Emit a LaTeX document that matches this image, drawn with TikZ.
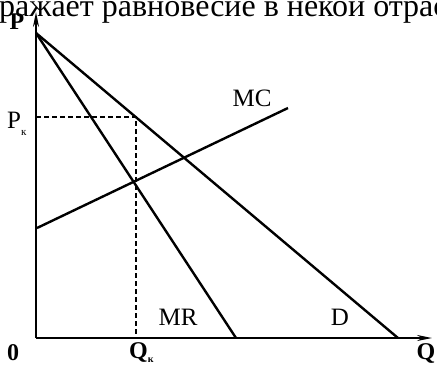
\documentclass[tikz,border=0pt]{standalone}
\usepackage{fontspec}
\setmainfont{Liberation Serif}
\usetikzlibrary{arrows.meta}
\begin{document}
\begin{tikzpicture}[x=1pt,y=-1pt,
  axis/.style={line width=1.8pt,-{Stealth[length=15pt,width=6pt]}},
  curve/.style={line width=2.4pt},
  guide/.style={line width=1.8pt,dash pattern=on 5pt off 3pt},
  lbl/.style={inner sep=0pt,font=\fontsize{25}{25}\selectfont},
  blbl/.style={inner sep=0pt,font=\fontsize{24}{24}\selectfont\bfseries}]
\useasboundingbox (0,0) rectangle (437,365);
\clip (0,0) rectangle (437,365);
\node[anchor=base west,inner sep=0pt,font=\fontsize{32}{32}\selectfont] (head) at (-1,16) {ражает равновесие в некой отрасли};
\coordinate (O) at (36,338);
\coordinate (ytop) at (36,12);
\coordinate (xend) at (432,338);
\coordinate (A) at (36,33);
\coordinate (Dq) at (398,338);
\coordinate (MRq) at (236,338);
\coordinate (MCa) at (37,228);
\coordinate (MCb) at (288,108);
\coordinate (E) at (136,117);
\coordinate (Pk) at (36,117);
\coordinate (Qk) at (136,338);
\draw[axis] (O) -- (ytop);
\draw[axis] (O) -- (xend);
\draw[curve] (A) -- (Dq);
\draw[curve] (A) -- (MRq);
\draw[curve] (MCa) -- (MCb);
\draw[guide] (Pk) -- (E) -- (Qk);
\node[blbl] (lP) at (17,22) {P};
\node[lbl,anchor=base west] (lPk) at (7,128) {P\raisebox{-7pt}{\fontsize{11}{11}\selectfont к}};
\node[lbl] (lMC) at (252,98) {MC};
\node[lbl] (lMR) at (178,317) {MR};
\node[lbl] (lD) at (340,317) {D};
\node[blbl,anchor=base] (l0) at (13,360) {0};
\node[blbl,anchor=base] (lQ) at (426,359) {Q};
\node[blbl,anchor=base west] (lQk) at (129,358) {Q\raisebox{-4pt}{\fontsize{10}{10}\selectfont к}};
\end{tikzpicture}
\end{document}
